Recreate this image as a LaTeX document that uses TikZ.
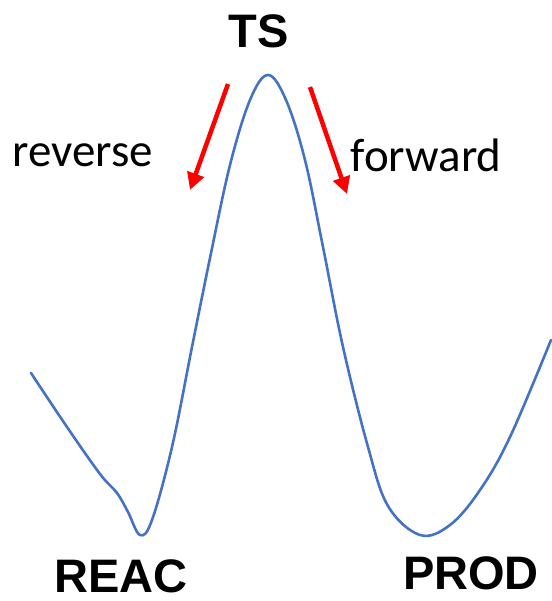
\documentclass[tikz,border=0pt]{standalone}
\usepackage{fontspec}
\setmainfont{Liberation Sans}
\newfontfamily\calib{Carlito}
\usetikzlibrary{arrows.meta}
\definecolor{curveblue}{RGB}{68,114,196}
\definecolor{arrred}{RGB}{255,0,0}
\tikzset{
  statelabel/.style={anchor=base, inner sep=0pt, font=\fontsize{47}{50}\selectfont\bfseries},
  dirlabel/.style={anchor=base, inner sep=0pt, font=\calib\fontsize{47}{50}\selectfont},
  energy/.style={curveblue, line width=2.6pt, line join=round, line cap=round},
  dirarrow/.style={arrred, line width=4.5pt, -{Triangle[length=17pt,width=17pt]}}
}
\begin{document}
\begin{tikzpicture}[x=1pt,y=-1pt]
\useasboundingbox (0,0) rectangle (551,601);
% labels
\node[statelabel] (ts) at (259,48) {TS};
\node[statelabel] (reac) at (121,592) {REAC};
\node[statelabel] (prod) at (471,589) {PROD};
\node[dirlabel] (rev) at (83,167) {reverse};
\node[dirlabel] (fwd) at (426,172) {forward};
% energy profile
\draw[energy] plot[smooth, tension=0.6] coordinates {
  (31,373) (67,427) (100,474) (117,493) (128,512) (140,535) (152,520)
  (172,447) (192,347) (210,258) (230,165) (250,100) (268,75)
  (286,100) (305,160) (323,247) (343,347) (368,447) (388,506)
  (420,535) (450,525) (480,490) (510,437) (551,340)};
% direction arrows
\coordinate (ra1) at (228,84);
\coordinate (ra2) at (190,190);
\coordinate (fa1) at (310,87);
\coordinate (fa2) at (347,194);
\draw[dirarrow] (ra1) -- (ra2);
\draw[dirarrow] (fa1) -- (fa2);
\end{tikzpicture}
\end{document}
